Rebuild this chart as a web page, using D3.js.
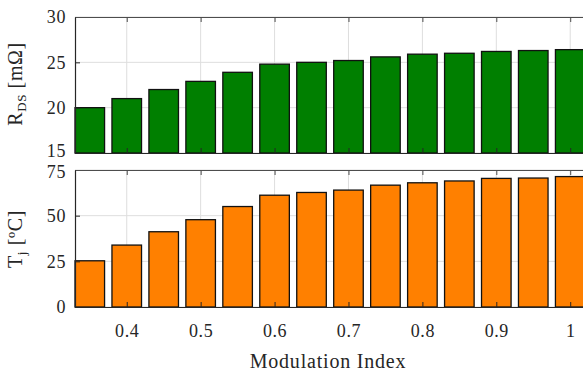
<!DOCTYPE html>
<html>
<head>
<meta charset="utf-8">
<script src="https://cdn.jsdelivr.net/npm/d3@7"></script>
<style>
  body { margin: 0; background: #fff; }
  svg { display: block; }
  text { font-family: "Liberation Serif", serif; fill: #262626; }
</style>
</head>
<body>
<div id="chart"></div>
<script>
// modulation index of each bar
var modIndex = [0.35, 0.4, 0.45, 0.5, 0.55, 0.6, 0.65, 0.7, 0.75, 0.8, 0.85, 0.9, 0.95, 1.0];
// on-resistance [mOhm]
var rdsValues = [20.0, 21.0, 22.0, 22.9, 23.9, 24.8, 25.0, 25.2, 25.6, 25.9, 26.0, 26.2, 26.3, 26.4];
// junction temperature [degC]
var tjValues = [25.3, 33.9, 41.2, 47.8, 55.0, 61.2, 62.7, 64.0, 66.7, 68.0, 69.0, 70.4, 70.6, 71.4];

var xTicks = [0.4, 0.5, 0.6, 0.7, 0.8, 0.9, 1];
var xDomain = [0.33, 1.02];
var rdsTicks = [15, 20, 25, 30];
var tjTicks = [0, 25, 50, 75];

var totalWidth = 583, totalHeight = 374;
var left = 75, right = 585;
var barW = 0.04;
var serif = '"Liberation Serif", serif';

var svg = d3.select('#chart').append('svg')
    .attr('width', totalWidth)
    .attr('height', totalHeight);

var xScale = d3.scaleLinear().domain(xDomain).range([left, right]);

function styleTicks(sel) {
    sel.attr('font-family', serif).attr('font-size', 18);
    sel.selectAll('text')
        .style('font-family', serif)
        .style('letter-spacing', '0.6px')
        .attr('fill', '#262626');
}

function drawPanel(top, bottom, values, ticks, color, showX) {
    var yScale = d3.scaleLinear()
        .domain([ticks[0], ticks[ticks.length - 1]])
        .range([bottom, top]);

    var g = svg.append('g');

    // grid
    g.selectAll('.gx').data(xTicks).enter().append('line')
        .attr('x1', d => xScale(d)).attr('x2', d => xScale(d))
        .attr('y1', top).attr('y2', bottom)
        .attr('stroke', '#dedede').attr('stroke-width', 1);
    g.selectAll('.gy').data(ticks).enter().append('line')
        .attr('x1', left).attr('x2', right)
        .attr('y1', d => yScale(d)).attr('y2', d => yScale(d))
        .attr('stroke', '#dedede').attr('stroke-width', 1);

    // bars
    g.selectAll('rect.bar')
        .data(modIndex)
        .enter()
        .append('rect')
        .attr('class', 'bar')
        .attr('x', d => xScale(d - barW / 2))
        .attr('y', (d, i) => yScale(values[i]))
        .attr('width', xScale(barW) - xScale(0))
        .attr('height', (d, i) => bottom - yScale(values[i]))
        .attr('fill', color)
        .attr('stroke', '#111')
        .attr('stroke-width', 1.3);

    // y axis (ticks point inward)
    var yAxis = d3.axisLeft(yScale).tickValues(ticks)
        .tickSizeInner(-5).tickSizeOuter(0).tickPadding(9);
    var yg = g.append('g').attr('transform', 'translate(' + left + ',0)').call(yAxis);
    yg.selectAll('path').attr('stroke', '#262626').attr('stroke-width', 1.2);
    yg.selectAll('line').attr('stroke', '#262626');
    styleTicks(yg);

    // bottom x axis
    var xAxis = d3.axisBottom(xScale).tickValues(xTicks)
        .tickSizeInner(-5).tickSizeOuter(0).tickPadding(17)
        .tickFormat(d3.format('~g'));
    var xg = g.append('g').attr('transform', 'translate(0,' + bottom + ')').call(xAxis);
    xg.selectAll('path').attr('stroke', '#262626').attr('stroke-width', 1.2);
    xg.selectAll('line').attr('stroke', '#262626');
    styleTicks(xg);
    if (!showX) xg.selectAll('text').remove();

    // top box edge with ticks
    var topAxis = d3.axisTop(xScale).tickValues(xTicks)
        .tickSizeInner(-5).tickSizeOuter(0).tickFormat('');
    var tg = g.append('g').attr('transform', 'translate(0,' + top + ')').call(topAxis);
    tg.selectAll('path').attr('stroke', '#4d4d4d').attr('stroke-width', 1.2);
    tg.selectAll('line').attr('stroke', '#4d4d4d');

    return yg;
}

var yg1 = drawPanel(17, 153, rdsValues, rdsTicks, '#007f00', false);
var yg2 = drawPanel(170, 307, tjValues, tjTicks, '#ff8000', true);
// keep the touching "15" / "75" labels apart a little
yg1.selectAll('.tick text').filter(d => d === 15).attr('dy', '0.2em');
yg2.selectAll('.tick text').filter(d => d === 75).attr('dy', '0.42em');

// y labels
var yl1 = svg.append('text')
    .attr('transform', 'translate(22,84) rotate(-90)')
    .attr('text-anchor', 'middle')
    .attr('font-size', 20)
    .style('letter-spacing', '0.6px');
yl1.append('tspan').text('R');
yl1.append('tspan').attr('font-size', 13).attr('dy', 4).text('DS');
yl1.append('tspan').attr('dy', -4).text(' [mΩ]');

var yl2 = svg.append('text')
    .attr('transform', 'translate(22,239) rotate(-90)')
    .attr('text-anchor', 'middle')
    .attr('font-size', 20)
    .style('letter-spacing', '0.6px');
yl2.append('tspan').text('T');
yl2.append('tspan').attr('font-size', 13).attr('dy', 4).text('j');
yl2.append('tspan').attr('dy', -4).text(' [ºC]');

// x label
svg.append('text')
    .attr('x', 328).attr('y', 368)
    .attr('text-anchor', 'middle')
    .attr('font-size', 20)
    .style('letter-spacing', '0.8px')
    .text('Modulation Index');
</script>
</body>
</html>
